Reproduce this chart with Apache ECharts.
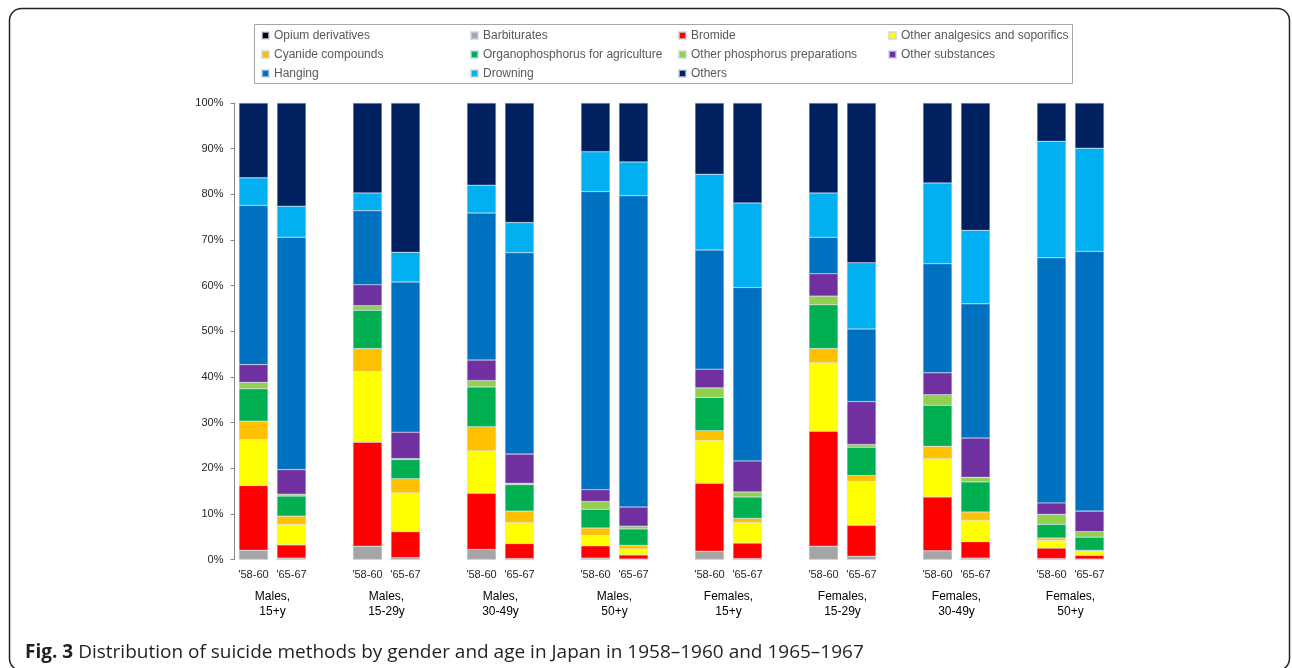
<!DOCTYPE html>
<html>
<head>
<meta charset="utf-8">
<title>Suicide methods Japan</title>
<script src="https://cdn.jsdelivr.net/npm/echarts/dist/echarts.min.js"></script>
<style>
    html, body { margin: 0; padding: 0; background: #fff; }
    #chart { width: 1292px; height: 668px; }
</style>
</head>
<body>
<div id="chart"></div>
<script>
    // groups of bars, two periods each
    var groups = ['Males,\n15+y', 'Males,\n15-29y', 'Males,\n30-49y', 'Males,\n50+y',
        'Females,\n15+y', 'Females,\n15-29y', 'Females,\n30-49y', 'Females,\n50+y'];
    var periods = ["'58-60", "'65-67"];
    var yTicks = [0, 10, 20, 30, 40, 50, 60, 70, 80, 90, 100];

    // % share, 16 bars in order: group1 '58-60, group1 '65-67, group2 '58-60 ...
    var opium = [0, 0, 0, 0, 0, 0, 0, 0, 0, 0, 0, 0, 0, 0, 0, 0];
    var barbiturates = [2.0, 0.3, 2.9, 0.4, 2.2, 0.2, 0.3, 0.1, 1.8, 0.2, 2.9, 0.7, 1.9, 0.3, 0.2, 0.1];
    var bromide = [14.2, 2.9, 22.8, 5.7, 12.3, 3.3, 2.7, 0.9, 14.9, 3.4, 25.2, 6.8, 11.8, 3.6, 2.3, 0.8];
    var analgesics = [10.1, 4.5, 15.5, 8.5, 9.3, 4.6, 2.3, 1.3, 9.4, 4.5, 15.0, 9.6, 8.4, 4.7, 1.7, 1.0];
    var cyanide = [4.0, 1.8, 5.0, 3.1, 5.3, 2.5, 1.6, 0.8, 2.1, 0.9, 3.1, 1.3, 2.7, 1.8, 0.5, 0.1];
    var organophos = [7.1, 4.4, 8.4, 4.2, 8.7, 5.8, 4.1, 3.6, 7.3, 4.7, 9.6, 6.2, 9.0, 6.6, 3.0, 2.9];
    var otherPhos = [1.4, 0.4, 1.0, 0.2, 1.4, 0.3, 1.7, 0.6, 2.1, 1.1, 1.9, 0.6, 2.3, 1.0, 2.2, 1.2];
    var otherSubst = [3.9, 5.4, 4.6, 5.8, 4.5, 6.4, 2.6, 4.2, 4.1, 6.8, 4.9, 9.4, 4.8, 8.6, 2.5, 4.5];
    var hanging = [34.9, 50.9, 16.2, 32.9, 32.2, 44.1, 65.3, 68.2, 26.1, 38.0, 8.0, 15.9, 23.9, 29.4, 53.7, 56.9];
    var drowning = [6.0, 6.8, 3.9, 6.5, 6.1, 6.6, 8.7, 7.4, 16.6, 18.5, 9.7, 14.5, 17.7, 16.1, 25.5, 22.6];
    var others = [16.4, 22.6, 19.7, 32.7, 18.0, 26.2, 10.7, 12.9, 15.6, 21.9, 19.7, 35.0, 17.5, 27.9, 8.4, 9.9];

    var methods = [
        {name: 'Opium derivatives', values: opium, color: '#000000'},
        {name: 'Barbiturates', values: barbiturates, color: '#a5a5a5'},
        {name: 'Bromide', values: bromide, color: '#ff0000'},
        {name: 'Other analgesics and soporifics', values: analgesics, color: '#ffff00'},
        {name: 'Cyanide compounds', values: cyanide, color: '#ffc000'},
        {name: 'Organophosphorus for agriculture', values: organophos, color: '#00b050'},
        {name: 'Other phosphorus preparations', values: otherPhos, color: '#92d050'},
        {name: 'Other substances', values: otherSubst, color: '#7030a0'},
        {name: 'Hanging', values: hanging, color: '#0070c0'},
        {name: 'Drowning', values: drowning, color: '#00b0f0'},
        {name: 'Others', values: others, color: '#002060'}
    ];

    // every group takes 3 slots: two bars and an empty gap
    var slotLabels = [];
    groups.forEach(function () {
        slotLabels.push(periods[0], periods[1], '');
    });

    function spread(values) {
        var out = [];
        for (var g = 0; g < groups.length; g++) {
            out.push(values[g * 2], values[g * 2 + 1], '-');
        }
        return out;
    }

    var series = methods.map(function (m) {
        return {
            name: m.name,
            type: 'bar',
            stack: 'total',
            barWidth: 29,
            data: spread(m.values),
            itemStyle: {
                color: m.color,
                borderColor: 'rgba(200,212,228,0.7)',
                borderWidth: 0.5
            },
            emphasis: {disabled: true}
        };
    });

    var legendFont = {
        fontFamily: 'Liberation Sans',
        fontSize: 12,
        color: '#595959',
        lineHeight: 15
    };

    function column(left, names) {
        return {
            orient: 'vertical',
            left: left,
            top: 28,
            padding: 0,
            itemGap: 4,
            itemWidth: 7,
            itemHeight: 7,
            icon: 'rect',
            selectedMode: false,
            textStyle: legendFont,
            data: names
        };
    }

    var myChart = echarts.init(document.getElementById('chart'));

    myChart.setOption({
        animation: false,
        title: {
            left: 25,
            top: 643,
            padding: 0,
            text: '{b|Fig. 3} {n|Distribution of suicide methods by gender and age in Japan in 1958\u20131960 and 1965\u20131967}',
            textStyle: {
                fontWeight: 'normal',
                rich: {
                    b: {fontFamily: 'Open Sans', fontSize: 19, fontWeight: 'bold', color: '#231f20'},
                    n: {fontFamily: 'Open Sans', fontSize: 19, fontWeight: 'normal', color: '#231f20'}
                }
            }
        },
        graphic: [
            {
                type: 'rect',
                shape: {x: 9.5, y: 8.5, width: 1280, height: 662, r: 12},
                style: {fill: 'none', stroke: '#222', lineWidth: 1.5},
                silent: true
            },
            {
                type: 'rect',
                shape: {x: 254.5, y: 24.5, width: 818, height: 59},
                style: {fill: 'none', stroke: '#a6a6a6', lineWidth: 1},
                silent: true
            }
        ],
        legend: [
            column(261, ['Opium derivatives', 'Cyanide compounds', 'Hanging']),
            column(470, ['Barbiturates', 'Organophosphorus for agriculture', 'Drowning']),
            column(678, ['Bromide', 'Other phosphorus preparations', 'Others']),
            column(888, ['Other analgesics and soporifics', 'Other substances'])
        ],
        grid: [
            {left: 234.5, top: 103, width: 912, bottom: 108.5},
            {left: 215.5, top: 103, width: 912, bottom: 108.5}
        ],
        xAxis: [
            {
                type: 'category',
                gridIndex: 0,
                data: slotLabels,
                axisLine: {show: false},
                axisTick: {show: false},
                axisLabel: {
                    interval: 0,
                    margin: 10,
                    fontFamily: 'Liberation Sans',
                    fontSize: 11,
                    color: '#262626'
                }
            },
            {
                type: 'category',
                gridIndex: 1,
                data: groups,
                axisLine: {show: false},
                axisTick: {show: false},
                axisLabel: {
                    interval: 0,
                    margin: 30,
                    fontFamily: 'Liberation Sans',
                    fontSize: 12,
                    lineHeight: 15,
                    color: '#000'
                }
            }
        ],
        yAxis: [
            {
                type: 'value',
                gridIndex: 0,
                min: yTicks[0],
                max: yTicks[yTicks.length - 1],
                interval: yTicks[1] - yTicks[0],
                splitLine: {show: false},
                axisLine: {show: true, lineStyle: {color: '#868686'}},
                axisTick: {show: true, length: 4, lineStyle: {color: '#868686'}},
                axisLabel: {
                    margin: 11,
                    formatter: '{value}%',
                    fontFamily: 'Liberation Sans',
                    fontSize: 11,
                    color: '#262626'
                }
            },
            {
                type: 'value',
                gridIndex: 1,
                show: false
            }
        ],
        series: series
    });
</script>
</body>
</html>
